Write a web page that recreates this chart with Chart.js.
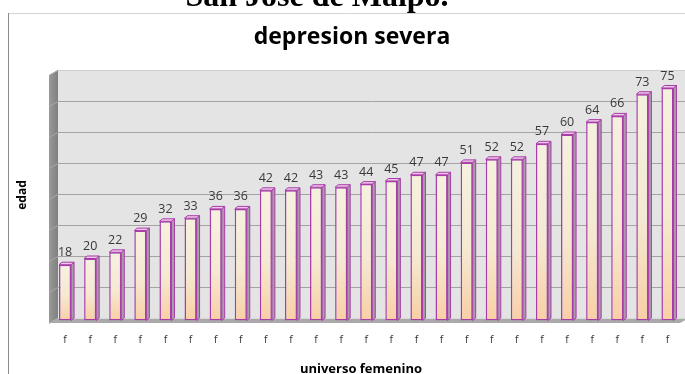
<!DOCTYPE html>
<html>
<head>
<meta charset="utf-8">
<script src="https://cdn.jsdelivr.net/npm/chart.js@4.4.1/dist/chart.umd.min.js"></script>
<style>
  html, body { margin: 0; padding: 0; background: #ffffff; overflow: hidden; }
  canvas { display: block; }
</style>
</head>
<body>
<canvas id="chart" width="685" height="374"></canvas>
<script>
// ---- data ----
const categories = ['f','f','f','f','f','f','f','f','f','f','f','f','f','f','f','f','f','f','f','f','f','f','f','f','f'];
const ages = [18, 20, 22, 29, 32, 33, 36, 36, 42, 42, 43, 43, 44, 45, 47, 47, 51, 52, 52, 57, 60, 64, 66, 73, 75];
const gridValues = [0, 10, 20, 30, 40, 50, 60, 70, 80];

const pageHeading = 'San José de Maipo.';
const chartTitle = 'depresion severa';
const yTitle = 'edad';
const xTitle = 'universo femenino';

// ---- look ----
const BAR_BORDER = '#a93ca9';
const BAR_DX = 3, BAR_DY = 2.5;     // depth of each bar
const WALL_DX = 9, WALL_DY = 5;     // depth of the floor / side wall
const BACK_SHIFT = 2.5;             // back wall sits slightly above the bar plane

// walls, floor, gridlines and all headings
const backdrop = {
  id: 'backdrop',
  beforeDraw(chart) {
    const { ctx, chartArea: a, scales: { y } } = chart;
    const W = chart.width, H = chart.height;
    ctx.save();

    // outer frame
    ctx.lineWidth = 1;
    ctx.strokeStyle = '#d4d4d4';
    ctx.beginPath(); ctx.moveTo(8, 13.5); ctx.lineTo(W, 13.5); ctx.stroke();
    ctx.strokeStyle = '#8c8c8c';
    ctx.beginPath(); ctx.moveTo(8.5, 13); ctx.lineTo(8.5, H); ctx.stroke();

    // headings
    ctx.fillStyle = '#000000';
    ctx.textAlign = 'center';
    ctx.textBaseline = 'alphabetic';
    ctx.font = 'bold 32px "Liberation Serif"';
    ctx.fillText(pageHeading, 317, 6);
    ctx.font = 'bold 23px "Open Sans"';
    ctx.fillText(chartTitle, 352, 44);
    ctx.font = 'bold 13px "Open Sans"';
    ctx.fillText(xTitle, 361, 373);
    ctx.save();
    ctx.translate(22.5, 195);
    ctx.rotate(-Math.PI / 2);
    ctx.textBaseline = 'middle';
    ctx.font = 'bold 12px "Open Sans"';
    ctx.fillText(yTitle, 0, 0);
    ctx.restore();

    // back wall
    const backL = a.left + 5.5;
    const top = y.getPixelForValue(gridValues[gridValues.length - 1]) - BACK_SHIFT;
    const bot = y.getPixelForValue(0) - BACK_SHIFT;
    ctx.fillStyle = '#e4e4e4';
    ctx.fillRect(backL, top, W - backL, bot - top);

    // side wall
    const wg = ctx.createLinearGradient(backL - WALL_DX, 0, backL, 0);
    wg.addColorStop(0, '#9a9a9a');
    wg.addColorStop(1, '#7f7f7f');
    ctx.fillStyle = wg;
    ctx.beginPath();
    ctx.moveTo(backL - WALL_DX, top + WALL_DY);
    ctx.lineTo(backL, top);
    ctx.lineTo(backL, bot);
    ctx.lineTo(backL - WALL_DX, bot + WALL_DY);
    ctx.closePath();
    ctx.fill();

    // gridlines on back wall and side wall
    ctx.lineWidth = 1;
    gridValues.forEach(v => {
      const py = Math.round(y.getPixelForValue(v) - BACK_SHIFT) + 0.5;
      ctx.strokeStyle = v === gridValues[gridValues.length - 1] ? '#cfcfcf' : '#a3a3a3';
      ctx.beginPath(); ctx.moveTo(backL, py); ctx.lineTo(W, py); ctx.stroke();
      ctx.strokeStyle = '#a8a8a8';
      ctx.beginPath(); ctx.moveTo(backL - WALL_DX, py + WALL_DY); ctx.lineTo(backL, py); ctx.stroke();
    });

    // floor
    ctx.fillStyle = '#a9a9a9';
    ctx.beginPath();
    ctx.moveTo(backL - WALL_DX, bot + WALL_DY);
    ctx.lineTo(backL, bot);
    ctx.lineTo(a.right + WALL_DX, bot);
    ctx.lineTo(a.right, bot + WALL_DY);
    ctx.closePath();
    ctx.fill();
    ctx.strokeStyle = '#d8d8d8';
    ctx.beginPath(); ctx.moveTo(backL, bot + 0.5); ctx.lineTo(W, bot + 0.5); ctx.stroke();

    ctx.restore();
  }
};

// top and side faces of every bar, taken from the bar elements
const barDepth = {
  id: 'barDepth',
  beforeDatasetsDraw(chart) {
    const { ctx } = chart;
    const meta = chart.getDatasetMeta(0);
    ctx.save();
    ctx.lineWidth = 1;
    ctx.strokeStyle = BAR_BORDER;
    meta.data.forEach(el => {
      const { x, y, base, width } = el.getProps(['x', 'y', 'base', 'width'], true);
      const l = x - width / 2, r = x + width / 2;
      ctx.fillStyle = '#a99ca8';
      ctx.beginPath();
      ctx.moveTo(r, y); ctx.lineTo(r + BAR_DX, y - BAR_DY);
      ctx.lineTo(r + BAR_DX, base - BAR_DY); ctx.lineTo(r, base);
      ctx.closePath(); ctx.fill(); ctx.stroke();
      ctx.fillStyle = '#edc8e8';
      ctx.beginPath();
      ctx.moveTo(l, y); ctx.lineTo(l + BAR_DX, y - BAR_DY);
      ctx.lineTo(r + BAR_DX, y - BAR_DY); ctx.lineTo(r, y);
      ctx.closePath(); ctx.fill(); ctx.stroke();
    });
    ctx.restore();
  },
  afterDatasetsDraw(chart) {
    const { ctx } = chart;
    const meta = chart.getDatasetMeta(0);
    const values = chart.data.datasets[0].data;
    ctx.save();
    ctx.fillStyle = '#383838';
    ctx.font = '12.5px "Open Sans"';
    ctx.textAlign = 'center';
    ctx.textBaseline = 'alphabetic';
    meta.data.forEach((el, i) => {
      const { x, y } = el.getProps(['x', 'y'], true);
      ctx.fillText(String(values[i]), x, y - 8.5);
    });
    ctx.restore();
  }
};

new Chart(document.getElementById('chart'), {
  type: 'bar',
  data: {
    labels: categories,
    datasets: [{
      data: ages,
      backgroundColor(c) {
        const chart = c.chart;
        if (!chart.chartArea || c.type !== 'data') return '#f5ead3';
        const ys = chart.scales.y;
        const top = ys.getPixelForValue(c.raw);
        const bot = ys.getPixelForValue(0);
        const g = chart.ctx.createLinearGradient(0, top, 0, bot);
        g.addColorStop(0, '#f5f1df');
        g.addColorStop(0.55, '#f5e9d2');
        g.addColorStop(1, '#f8cfa5');
        return g;
      },
      borderColor: BAR_BORDER,
      borderWidth: 1.5,
      borderSkipped: false,
      barPercentage: 0.48,
      categoryPercentage: 1.0
    }]
  },
  options: {
    responsive: false,
    animation: false,
    devicePixelRatio: 1,
    layout: { padding: { top: 72.5, right: 5, left: 0, bottom: 0 } },
    plugins: {
      legend: { display: false },
      tooltip: { enabled: false },
      title: { display: false }
    },
    scales: {
      x: {
        grid: { display: false, drawTicks: false },
        border: { display: false },
        ticks: {
          color: '#383838',
          font: { family: '"Open Sans"', size: 10.5 },
          padding: 13,
          maxRotation: 0,
          autoSkip: false
        },
        afterFit(scale) { scale.height = 53.5; }
      },
      y: {
        min: 0,
        max: 80,
        grid: { display: false, drawTicks: false },
        border: { display: false },
        ticks: { display: false, stepSize: 10 },
        afterFit(scale) { scale.width = 52.5; }
      }
    }
  },
  plugins: [backdrop, barDepth]
});
</script>
</body>
</html>
